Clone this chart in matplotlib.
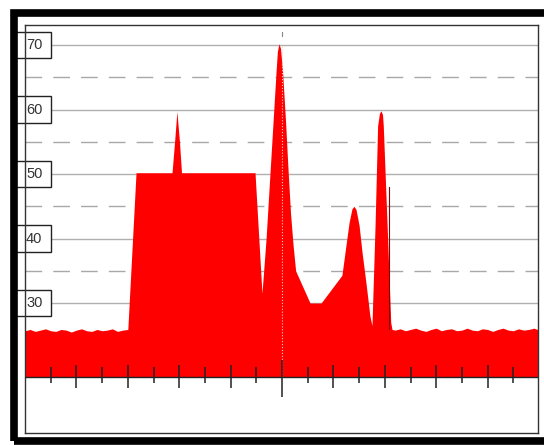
import numpy as np
import matplotlib
matplotlib.use("Agg")
import matplotlib.pyplot as plt
from matplotlib.patches import Rectangle
import matplotlib.transforms as mtransforms

# ---- data (frequency offset in divisions, level in dB) ----
left_noise_x = np.linspace(-10.0, -6.0, 21)
left_noise_y = [25.7, 25.9, 25.6, 25.8, 26.0, 25.7, 25.6, 25.9, 25.8, 25.5, 25.8,
                26.0, 25.7, 25.6, 25.9, 25.7, 25.8, 26.0, 25.6, 25.8, 25.9]

main_x = [-5.68, -4.28, -4.18, -4.09, -3.99, -3.91, -1.05, -0.78, -0.62, -0.47,
          -0.35, -0.23, -0.18, -0.12, -0.06, 0.02, 0.14, 0.23, 0.33, 0.43, 0.53,
          1.09, 1.52, 2.33, 2.49, 2.61, 2.72, 2.80, 2.88, 3.00, 3.11, 3.27, 3.42,
          3.50, 3.62, 3.72, 3.79, 3.85, 3.91, 3.94, 4.09, 4.23, 4.28]
main_y = [50.2, 50.2, 55.0, 59.7, 55.0, 50.2, 50.2, 31.5, 40.0, 50.0,
          58.0, 66.0, 69.0, 70.2, 69.5, 66.0, 58.0, 51.0, 44.0, 39.0, 35.0,
          30.0, 30.0, 34.3, 39.0, 42.5, 44.6, 45.0, 44.5, 42.0, 38.0, 33.0, 28.0,
          26.5, 42.0, 57.5, 59.4, 59.8, 59.2, 57.5, 42.0, 27.0, 25.9]

right_noise_x = np.linspace(4.4, 10.0, 29)
right_noise_y = [25.8, 26.0, 25.7, 25.9, 26.1, 25.8, 25.6, 25.9, 26.1, 25.7,
                 25.9, 26.0, 25.7, 25.8, 26.1, 25.8, 25.7, 26.0, 25.9, 25.6,
                 25.9, 26.1, 25.8, 25.7, 26.0, 25.8, 25.9, 26.1, 25.8]

spur_x = 4.18
spur_top = 48.0

grid_solid = [30, 40, 50, 60, 70]
grid_dashed = [35, 45, 55, 65]
ytick_labels = ["30", "40", "50", "60", "70"]
tick_pos = list(range(-9, 10))

baseline = 18.53

# ---- figure ----
fig = plt.figure(figsize=(5.44, 4.45), dpi=100)
ax = fig.add_axes([25/544, 12/445, 513/544, 408/445])
ax.set_xlim(-10.0, 9.96)
ax.set_ylim(9.85, 73.1)
ax.set_xticks([])
ax.set_yticks([])
for s in ax.spines.values():
    s.set_linewidth(1.0)
    s.set_color("#333333")

for g in grid_solid:
    ax.axhline(g, color="#b0b0b0", lw=1.0, zorder=1)
for g in grid_dashed:
    ax.axhline(g, color="#a8a8a8", lw=1.0, dashes=(12, 8), zorder=1)

x_all = np.concatenate([left_noise_x, main_x, right_noise_x])
y_all = np.concatenate([left_noise_y, main_y, right_noise_y])
ax.fill_between(x_all, baseline, y_all, color="#ff0000", lw=0, zorder=2)
ax.plot([spur_x, spur_x], [26.0, spur_top], color="#8b0000", lw=0.8, zorder=2.2)

# center dotted marker
ax.plot([0, 0], [baseline, 70], ls=":", color="#ffc8c8", lw=0.8, zorder=2.3)
ax.plot([0, 0], [71.4, 72.0], color="#888888", lw=0.8, zorder=2.3)

# baseline and ticks
ax.axhline(baseline, color="#222222", lw=1.0, zorder=3)
for t in tick_pos:
    if t == 0:
        lo, hi = 15.4, 21.2
    elif t % 2 == 0:
        lo, hi = 16.8, 20.4
    else:
        lo, hi = 17.6, 20.1
    ax.plot([t, t], [lo, hi], color="#222222", lw=1.1, zorder=3,
            solid_capstyle="butt")

# y labels in boxes
trans = mtransforms.blended_transform_factory(ax.transAxes, ax.transData)
for g, lab in zip(grid_solid, ytick_labels):
    ax.add_patch(Rectangle((-10/513, g - 2.05), 36/513, 4.1, transform=trans,
                           facecolor="white", edgecolor="#222222", lw=1.0,
                           clip_on=False, zorder=1.5))
    ax.text(1/513, g, lab, transform=trans, ha="left", va="center",
            fontsize=10.5, family="Liberation Sans", color="#333333",
            zorder=4, clip_on=False)

# outer thick frame
fig.add_artist(Rectangle((13.5/544, (445-441)/445), 1.2, (441-12.5)/445,
                         transform=fig.transFigure, fill=False, lw=5.5,
                         edgecolor="black", clip_on=False))

fig.savefig("out.png", dpi=100)
